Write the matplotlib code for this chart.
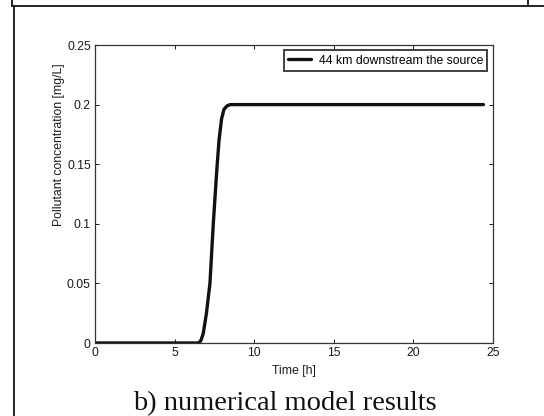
"""
Numerical model results: pollutant concentration 44 km downstream
"""
import matplotlib
matplotlib.use("Agg")
import matplotlib.pyplot as plt
from matplotlib.lines import Line2D

# Curve
time_h = [0.0, 6.5, 6.65, 6.8, 7.0, 7.22, 7.43, 7.65, 7.79, 7.95, 8.1, 8.3, 8.5, 24.4]
conc = [0.0, 0.0, 0.002, 0.008, 0.025, 0.05, 0.1, 0.145, 0.17, 0.188, 0.196, 0.199, 0.2, 0.2]

x_ticks = [0, 5, 10, 15, 20, 25]
y_ticks = [0, 0.05, 0.1, 0.15, 0.2, 0.25]
y_tick_labels = ["0", "0.05", "0.1", "0.15", "0.2", "0.25"]

plt.rcParams["font.family"] = ["Liberation Sans", "DejaVu Sans"]

W, H = 544, 416
fig = plt.figure(figsize=(W / 100, H / 100), dpi=100)

# axes box in pixels: left 95, right 493, top 45, bottom 343
ax = fig.add_axes([95 / W, 1 - 343 / H, (493 - 95) / W, (343 - 45) / H])
ax.plot(time_h, conc, color="#111111", linewidth=2.4,
        label="44 km downstream the source", solid_capstyle="round")

ax.set_xlim(0, 25)
ax.set_ylim(0, 0.25)
ax.set_xticks(x_ticks)
ax.set_yticks(y_ticks)
ax.set_yticklabels(y_tick_labels)
ax.tick_params(direction="in", top=True, right=True, length=3,
               width=0.7, labelsize=8.8, pad=3, colors="#1a1a1a")
for spine in ax.spines.values():
    spine.set_color("#333333")
    spine.set_linewidth(0.9)

ax.set_xlabel("Time [h]", fontsize=8.8, color="#1a1a1a")
ax.xaxis.set_label_coords(0.5, -0.075)
ax.set_ylabel("Pollutant concentration [mg/L]", fontsize=8.8, color="#1a1a1a")
ax.yaxis.set_label_coords(-0.075, 0.665)

leg = ax.legend(loc="upper right", fontsize=8.8, frameon=True, fancybox=False,
                borderpad=0.35, handlelength=1.9, handletextpad=0.6,
                bbox_to_anchor=(0.986, 0.982), borderaxespad=0)
leg.get_frame().set_edgecolor("#111111")
leg.get_frame().set_linewidth(1.4)

# caption under the chart
fig.text(285 / W, 1 - 404 / H, "b) numerical model results",
         fontsize=20.5, family="Liberation Serif", ha="center", va="center",
         color="#111111")

# surrounding frame lines from the page
frame = dict(color="#222222", linewidth=1.4, transform=fig.transFigure)
fig.add_artist(Line2D([14 / W, 14 / W], [0, 1 - 6 / H], **frame))
fig.add_artist(Line2D([12 / W, 1], [1 - 6 / H, 1 - 6 / H], **frame))
fig.add_artist(Line2D([12 / W, 12 / W], [1 - 6 / H, 1], **frame))
fig.add_artist(Line2D([528 / W, 528 / W], [1 - 6 / H, 1], **frame))

fig.savefig("out.png", dpi=100)
